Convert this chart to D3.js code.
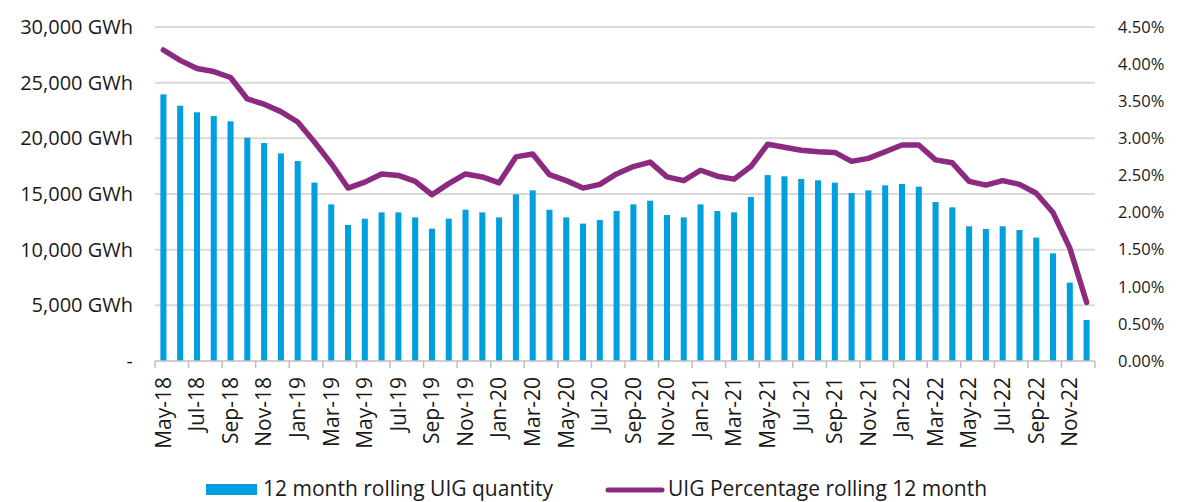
<!DOCTYPE html>
<html>
<head>
<meta charset="utf-8">
<script src="https://cdn.jsdelivr.net/npm/d3@7"></script>
<style>
  html, body { margin: 0; padding: 0; background: #fff; }
  svg { display: block; font-family: "Open Sans", sans-serif; }
</style>
</head>
<body>
<svg id="chart" width="1179" height="502"></svg>
<script>
const months = ["May-18","Jun-18","Jul-18","Aug-18","Sep-18","Oct-18","Nov-18","Dec-18",
  "Jan-19","Feb-19","Mar-19","Apr-19","May-19","Jun-19","Jul-19","Aug-19","Sep-19","Oct-19","Nov-19","Dec-19",
  "Jan-20","Feb-20","Mar-20","Apr-20","May-20","Jun-20","Jul-20","Aug-20","Sep-20","Oct-20","Nov-20","Dec-20",
  "Jan-21","Feb-21","Mar-21","Apr-21","May-21","Jun-21","Jul-21","Aug-21","Sep-21","Oct-21","Nov-21","Dec-21",
  "Jan-22","Feb-22","Mar-22","Apr-22","May-22","Jun-22","Jul-22","Aug-22","Sep-22","Oct-22","Nov-22","Dec-22"];

const uigQuantity = [23950, 22930, 22340, 22000, 21530, 20060, 19580, 18650,
  17960, 16020, 14070, 12220, 12780, 13350, 13350, 12900, 11890, 12780, 13590, 13350,
  12900, 14970, 15330, 13590, 12900, 12340, 12660, 13470, 14070, 14400, 13110, 12900,
  14070, 13470, 13350, 14730, 16700, 16590, 16350, 16230, 16020, 15090, 15330, 15780,
  15900, 15660, 14280, 13800, 12100, 11860, 12100, 11770, 11080, 9670, 7040, 3680];

const uigPercent = [4.19, 4.05, 3.94, 3.90, 3.82, 3.53, 3.46, 3.36,
  3.22, 2.95, 2.66, 2.33, 2.41, 2.52, 2.50, 2.42, 2.24, 2.39, 2.52, 2.48,
  2.40, 2.75, 2.79, 2.51, 2.43, 2.33, 2.38, 2.52, 2.62, 2.68, 2.48, 2.43,
  2.57, 2.49, 2.45, 2.62, 2.92, 2.88, 2.84, 2.82, 2.81, 2.69, 2.73, 2.82,
  2.91, 2.91, 2.71, 2.67, 2.42, 2.37, 2.43, 2.38, 2.26, 2.00, 1.52, 0.79];

const leftTicks = [0, 5000, 10000, 15000, 20000, 25000, 30000];
const rightTicks = [0, 0.005, 0.01, 0.015, 0.02, 0.025, 0.03, 0.035, 0.04, 0.045];
const seriesNames = ["12 month rolling UIG quantity", "UIG Percentage rolling 12 month"];

const BAR = "#00A0E0", LINE = "#8C2A82", GRID = "#D9D9D9", AXIS = "#BFBFBF", TXT = "#1a1a1a";

const svg = d3.select("#chart");
const L = 155, R = 1095, T = 27, B = 361;

const x = d3.scaleBand().domain(months).range([L, R]).paddingInner(0.64).paddingOuter(0.32);
const yL = d3.scaleLinear().domain([0, 30000]).range([B, T]);
const yR = d3.scaleLinear().domain([0, 0.045]).range([B, T]);

// gridlines
svg.append("g").selectAll("line").data(leftTicks.filter(d => d > 0)).join("line")
  .attr("x1", L).attr("x2", R)
  .attr("y1", d => yL(d)).attr("y2", d => yL(d))
  .attr("stroke", GRID).attr("stroke-width", 2);

// left axis labels
svg.append("g").selectAll("text").data(leftTicks).join("text")
  .attr("x", 133).attr("y", d => yL(d)).attr("dy", "0.35em")
  .attr("text-anchor", "end").attr("font-size", 20).attr("fill", TXT)
  .text(d => d === 0 ? "-" : d3.format(",")(d) + " GWh");

// right axis labels
svg.append("g").selectAll("text").data(rightTicks).join("text")
  .attr("x", 1118).attr("y", d => yR(d)).attr("dy", "0.35em")
  .attr("text-anchor", "start").attr("font-size", 16.5).attr("fill", TXT)
  .text(d => d3.format(".2%")(d));

// bars
svg.append("g").selectAll("rect").data(months).join("rect")
  .attr("x", d => x(d)).attr("width", x.bandwidth())
  .attr("y", (d, i) => yL(uigQuantity[i]))
  .attr("height", (d, i) => yL(0) - yL(uigQuantity[i]))
  .attr("fill", BAR);

// x axis line + ticks
svg.append("line").attr("x1", L).attr("x2", R).attr("y1", B).attr("y2", B)
  .attr("stroke", AXIS).attr("stroke-width", 1.5);
const tickIdx = d3.range(0, months.length + 1, 2);
svg.append("g").selectAll("line").data(tickIdx).join("line")
  .attr("x1", i => x.range()[0] + i * x.step()).attr("x2", i => x.range()[0] + i * x.step())
  .attr("y1", B).attr("y2", B + 7)
  .attr("stroke", AXIS).attr("stroke-width", 1.5);

// x labels
svg.append("g").selectAll("text").data(months.filter((d, i) => i % 2 === 0)).join("text")
  .attr("transform", d => `translate(${x(d) + x.bandwidth() / 2},377) rotate(-90)`)
  .attr("dy", "0.35em").attr("text-anchor", "end")
  .attr("font-size", 21).attr("fill", TXT)
  .text(d => d);

// line
const line = d3.line()
  .x((d, i) => x(months[i]) + x.bandwidth() / 2)
  .y(d => yR(d / 100));
svg.append("path").datum(uigPercent)
  .attr("d", line).attr("fill", "none")
  .attr("stroke", LINE).attr("stroke-width", 5.5)
  .attr("stroke-linejoin", "round").attr("stroke-linecap", "round");

// legend
const lg = svg.append("g");
lg.append("rect").attr("x", 206).attr("y", 484).attr("width", 51).attr("height", 11).attr("fill", BAR);
lg.append("text").attr("x", 263).attr("y", 496).attr("font-size", 21).attr("fill", TXT).text(seriesNames[0]);
lg.append("line").attr("x1", 608).attr("x2", 662).attr("y1", 490).attr("y2", 490)
  .attr("stroke", LINE).attr("stroke-width", 5).attr("stroke-linecap", "round");
lg.append("text").attr("x", 668).attr("y", 496).attr("font-size", 21).attr("fill", TXT).text(seriesNames[1]);
</script>
</body>
</html>
